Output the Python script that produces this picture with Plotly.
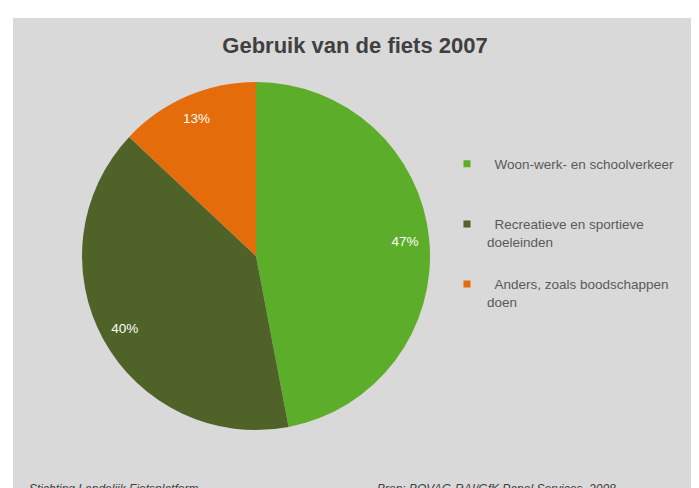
import plotly.graph_objects as go

title = "Gebruik van de fiets 2007"
categories = [
    "Woon-werk- en schoolverkeer",
    "Recreatieve en sportieve<br>doeleinden",
    "Anders, zoals boodschappen<br>doen",
]
values = [47, 40, 13]
colors = ["#5cad2a", "#4f6228", "#e46c0a"]
footer_left = "Stichting Landelijk Fietsplatform"
footer_right = "Bron: BOVAG-RAI/GfK Panel Services, 2008"

W, H = 699, 488
FONT = "Liberation Sans, Arial, sans-serif"


def px(x):
    return x / W


def py(y):
    return 1 - y / H


pie_domain = dict(x=[px(74), px(422)], y=[py(422), py(74)])

fig = go.Figure()

# main pie (slices)
fig.add_trace(
    go.Pie(
        labels=categories,
        values=values,
        sort=False,
        direction="clockwise",
        rotation=0,
        marker=dict(colors=colors, line=dict(width=0)),
        textinfo="none",
        hoverinfo="label+percent",
        showlegend=False,
        domain=pie_domain,
    )
)

# transparent ring carrying the percentage labels near the rim
fig.add_trace(
    go.Pie(
        labels=categories,
        values=values,
        sort=False,
        direction="clockwise",
        rotation=0,
        hole=0.72,
        marker=dict(colors=["rgba(0,0,0,0)"] * len(values), line=dict(width=0)),
        texttemplate="%{percent:.0%}",
        textposition="inside",
        insidetextorientation="horizontal",
        textfont=dict(family=FONT, size=13.5, color="white"),
        hoverinfo="skip",
        showlegend=False,
        domain=pie_domain,
    )
)

# legend entries
nb = "\u00a0\u00a0"
for i, (cat, col) in enumerate(zip(categories, colors)):
    label = nb + cat + ("" if "<br>" in cat else "<br>\u00a0")
    fig.add_trace(
        go.Scatter(
            x=[None],
            y=[None],
            mode="markers",
            name=label,
            legendgroup="g%d" % i,
            marker=dict(symbol="square", size=7, color=col),
            showlegend=True,
            hoverinfo="skip",
        )
    )

fig.update_layout(
    width=W,
    height=H,
    margin=dict(l=0, r=0, t=0, b=0),
    paper_bgcolor="white",
    plot_bgcolor="rgba(0,0,0,0)",
    xaxis=dict(visible=False),
    yaxis=dict(visible=False),
    title=dict(
        text="<b>" + title + "</b>",
        x=px(347),
        xanchor="center",
        y=py(37),
        yanchor="middle",
        font=dict(family=FONT, size=22, color="#404040"),
    ),
    legend=dict(
        x=px(439),
        xanchor="left",
        y=py(140.5),
        yanchor="top",
        bgcolor="rgba(0,0,0,0)",
        font=dict(family=FONT, size=13.5, color="#595959"),
        valign="top",
        itemwidth=30,
        traceorder="grouped",
        tracegroupgap=22,
    ),
    shapes=[
        dict(
            type="rect",
            xref="paper",
            yref="paper",
            x0=px(5),
            x1=1,
            y0=0,
            y1=py(10),
            fillcolor="#d9d9d9",
            line=dict(width=0),
            layer="below",
        )
    ],
    annotations=[
        dict(
            text="<i>" + footer_left + "</i>",
            x=px(19),
            xanchor="left",
            y=py(481),
            yanchor="middle",
            xref="paper",
            yref="paper",
            showarrow=False,
            font=dict(family=FONT, size=12, color="#404040"),
        ),
        dict(
            text="<i>" + footer_right + "</i>",
            x=px(367),
            xanchor="left",
            y=py(481),
            yanchor="middle",
            xref="paper",
            yref="paper",
            showarrow=False,
            font=dict(family=FONT, size=12, color="#404040"),
        ),
    ],
)

fig.write_html("out.html")
